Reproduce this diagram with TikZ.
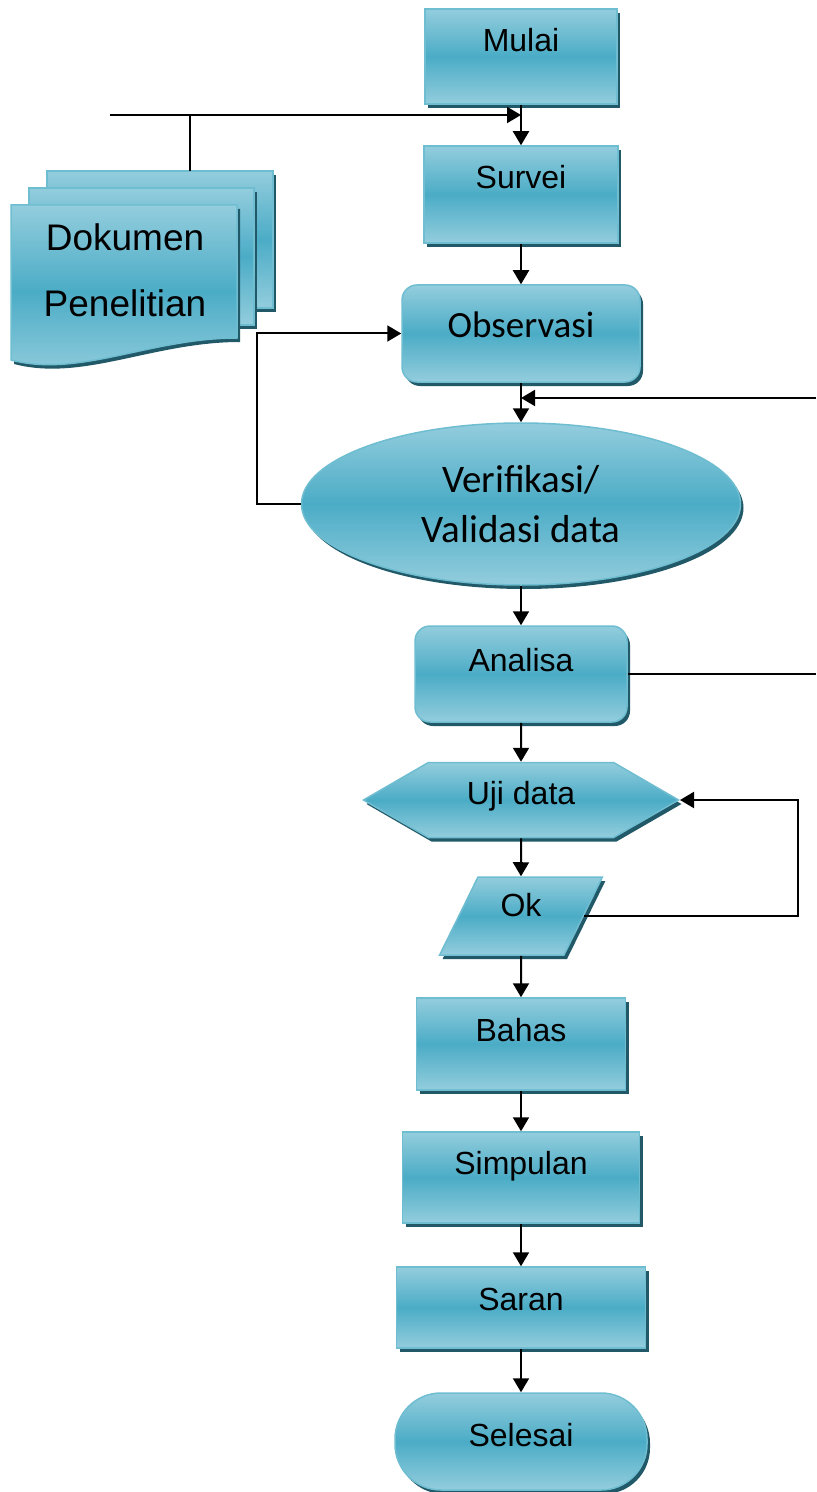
\documentclass[tikz,border=0pt]{standalone}
\usepackage{fontspec}
\setmainfont{Liberation Sans}
\newfontfamily\calib{Carlito}
\usetikzlibrary{arrows.meta,shadows,shapes.geometric,shapes.symbols}
\definecolor{aqua}{HTML}{4BACC6}
\definecolor{aqualight}{HTML}{93CDDD}
\definecolor{aquadark}{HTML}{215968}
\tikzset{aquafill/.style={draw=aqua!80!white, line width=0.75pt, top color=aqualight, bottom color=aqualight, middle color=aqua, drop shadow={shadow xshift=1.5pt, shadow yshift=-2pt, fill=aquadark, opacity=1}}}
\tikzset{box/.style={aquafill, rectangle, inner sep=0pt, font=\fontsize{16}{19}\selectfont}}
\tikzset{rbox/.style={box, rounded corners=7.5pt}}
\tikzset{lift/.style={text depth=#1}}
\tikzset{line/.style={line width=1pt}}
\tikzset{arr/.style={line width=1pt, -{Triangle[length=7pt,width=8pt]}}}
\begin{document}
\begin{tikzpicture}[x=0.5pt,y=-0.5pt]
\useasboundingbox (0,0) rectangle (816,1492);
\draw[aquafill] (47,171) rectangle (273,308);
\draw[aquafill] (29,188) rectangle (254,325);
\draw[aquafill] (11,205) -- (237,205) -- (237,338) .. controls (150,338) and (80,378) .. (11,360) -- cycle;
\node[font=\fontsize{18.5}{33}\selectfont, align=center] (dok) at (125,270) {Dokumen\\Penelitian};
\node[box, minimum width=96pt, minimum height=47.5pt, lift=16.5pt] (mulai) at (521,56.5) {Mulai};
\node[box, minimum width=97pt, minimum height=48.5pt, lift=17.5pt] (survei) at (521,194.5) {Survei};
\node[rbox, minimum width=119pt, minimum height=48.5pt, lift=8.5pt, font=\calib\fontsize{18.5}{22}\selectfont] (obs) at (521,333.5) {Observasi};
\node[box, ellipse, minimum width=219.5pt, minimum height=81pt, align=center, font=\calib\fontsize{19.5}{25}\selectfont] (verif) at (521,504) {Verifikasi/\\Validasi data};
\node[rbox, minimum width=106pt, minimum height=48pt, lift=14pt] (analisa) at (521,674) {Analisa};
\node[box, signal, signal to=west and east, signal pointer angle=60, minimum width=157.5pt, minimum height=37.5pt, lift=7pt] (uji) at (521,800) {Uji data};
\node[box, trapezium, trapezium left angle=68, trapezium right angle=112, trapezium stretches=true, minimum width=81.5pt, minimum height=39pt, lift=11pt] (ok) at (521,916) {Ok};
\node[box, minimum width=104.5pt, minimum height=46pt, lift=14pt] (bahas) at (521,1044) {Bahas};
\node[box, minimum width=118.5pt, minimum height=45.5pt, lift=14.5pt] (simpulan) at (521,1177.5) {Simpulan};
\node[box, minimum width=124.5pt, minimum height=40.5pt, lift=8.5pt] (saran) at (521,1307.5) {Saran};
\node[box, rounded corners=23pt, minimum width=126pt, minimum height=48.5pt, lift=6.5pt] (selesai) at (521,1441.5) {Selesai};
\coordinate (dtop) at (190,171);
\coordinate (lstart) at (110,115);
\coordinate (rin) at (816,398);
\coordinate (rout) at (816,674);
\coordinate (lx) at (257,498);
\coordinate (rx) at (798,914);
\draw[line] (dtop) -- (dtop |- lstart);
\draw[arr] (lstart) -- (lstart -| survei);
\draw[arr] (mulai) -- (survei);
\draw[arr] (survei) -- (obs);
\draw[arr] (obs) -- (verif);
\draw[arr] (rin) -- (rin -| verif);
\draw[arr] (verif.west) -- (verif.west -| lx) |- (obs.west);
\draw[arr] (verif) -- (analisa);
\draw[line] (analisa.east) -- (analisa.east -| rout);
\draw[arr] (analisa) -- (uji);
\draw[arr] (uji) -- (ok);
\draw[arr] (ok.east) -- (ok.east -| rx) |- (uji.east);
\draw[arr] (ok) -- (bahas);
\draw[arr] (bahas) -- (simpulan);
\draw[arr] (simpulan) -- (saran);
\draw[arr] (saran) -- (selesai);
\end{tikzpicture}
\end{document}
